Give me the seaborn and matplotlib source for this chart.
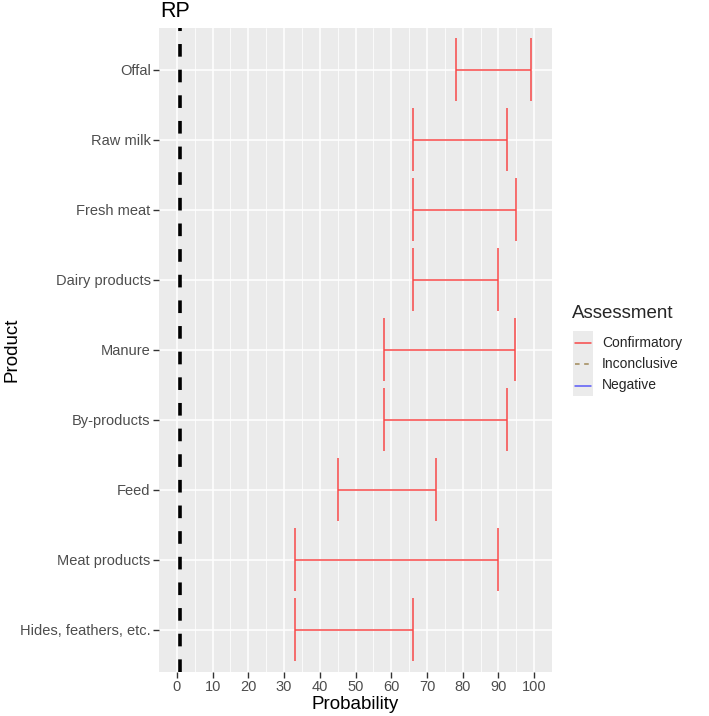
import matplotlib
matplotlib.use("Agg")
import matplotlib.pyplot as plt
from matplotlib.lines import Line2D
from matplotlib.patches import Rectangle
import seaborn as sns
import pandas as pd

# product ranges, top to bottom as shown
products = ["Offal", "Raw milk", "Fresh meat", "Dairy products", "Manure",
            "By-products", "Feed", "Meat products", "Hides, feathers, etc."]
low = [78, 66, 66, 66, 58, 58, 45, 33, 33]
high = [99, 92.3, 95, 90, 94.5, 92.5, 72.5, 90, 66]
assessment = ["Confirmatory"] * 9
rp_value = 1

legend_labels = ["Confirmatory", "Inconclusive", "Negative"]
legend_colors = ["#F84848", "#A08858", "#5A5AF8"]
legend_styles = ["-", "--", "-"]

x_ticks = list(range(0, 101, 10))

sns.set_theme(style="darkgrid")
plt.rcParams["font.family"] = ["Liberation Sans", "DejaVu Sans"]

df = pd.DataFrame({"Product": products, "low": low, "high": high,
                   "Assessment": assessment})
df["pos"] = list(range(len(df) - 1, -1, -1))
colmap = dict(zip(legend_labels, legend_colors))

fig = plt.figure(figsize=(7.09, 7.16), dpi=100)
ax = fig.add_axes([0.2243, 0.0615, 0.7786 - 0.2243, 0.9609 - 0.0615])
ax.set_facecolor("#EBEBEB")

cap = 0.45
for _, r in df.iterrows():
    c = colmap[r["Assessment"]]
    ax.hlines(r["pos"], r["low"], r["high"], color=c, lw=1.1, zorder=3)
    ax.vlines([r["low"], r["high"]], r["pos"] - cap, r["pos"] + cap,
              color=c, lw=1.1, zorder=3)

# reference line
ax.axvline(rp_value, color="black", lw=2.6, ls=(0, (3.5, 3.6)), zorder=4)
ax.text(rp_value - 1.6, 1.0171, "RP", transform=ax.get_xaxis_transform(),
        ha="center", va="baseline", fontsize=15.5, color="black", clip_on=False)

ax.set_xlim(-5, 105)
ax.set_ylim(-0.6, len(df) - 0.4)
ax.set_xticks(x_ticks)
ax.set_xticks([v + 5 for v in x_ticks[:-1]], minor=True)
ax.set_yticks(df["pos"])
ax.set_yticklabels(df["Product"])
ax.grid(which="major", color="white", lw=1.1)
ax.grid(which="minor", axis="x", color="white", lw=0.55)
ax.grid(which="minor", axis="y", visible=False)
for s in ax.spines.values():
    s.set_visible(False)
ax.tick_params(axis="both", which="major", length=4, width=1, color="#333333",
               labelsize=10.5, labelcolor="#4D4D4D", pad=2, bottom=True, left=True)
ax.tick_params(axis="both", which="minor", length=0)
ax.set_xlabel("Probability", fontsize=13.5, color="black", labelpad=1)
ax.set_ylabel("Product", fontsize=13.5, color="black", va="center")
ax.yaxis.set_label_coords(-0.375, 0.5)

# legend drawn like ggplot's guide
fig.text(572 / 709, 1 - 313 / 716, "Assessment", fontsize=13.5, ha="left", va="center")
key_x0, key_x1 = 572.5, 592.5
row_y = [342.5, 364, 385.5]
fig.add_artist(Rectangle((key_x0 / 709, 1 - 396 / 716), (key_x1 - key_x0) / 709,
                         (396 - 331) / 716, transform=fig.transFigure,
                         facecolor="#EBEBEB", edgecolor="none"))
for lab, c, ls, yy in zip(legend_labels, legend_colors, legend_styles, row_y):
    fig.add_artist(Line2D([(key_x0 + 2) / 709, (key_x1 - 2) / 709],
                          [1 - yy / 716, 1 - yy / 716], transform=fig.transFigure,
                          color=c, lw=1.1, ls=(0, (3, 3)) if ls == "--" else "-"))
    fig.text(602 / 709, 1 - yy / 716, lab, fontsize=10, ha="left", va="center")

fig.savefig("out.png", dpi=100, facecolor="white")
